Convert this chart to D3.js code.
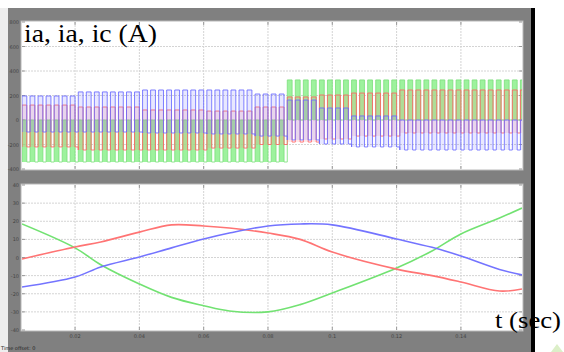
<!DOCTYPE html>
<html>
<head>
<meta charset="utf-8">
<script src="https://d3js.org/d3.v7.min.js"></script>
<style>
  * { margin: 0; padding: 0; }
  body { background: #fff; width: 564px; height: 352px; overflow: hidden; }
  svg { display: block; }
</style>
</head>
<body>
<div id="chart"></div>
<script>
// time axis (s)
const tStart = 0.0035, tEnd = 0.159;
const timeTicks = [0.02, 0.04, 0.06, 0.08, 0.1, 0.12, 0.14];
const timeLabels = ["0.02", "0.04", "0.06", "0.08", "0.1", "0.12", "0.14"];

// upper scope: switching currents, envelope levels read per segment
const topTicks = [800, 600, 400, 200, 0, -200, -400];
const envTime = [0.0035, 0.02, 0.04, 0.06, 0.075, 0.084, 0.095, 0.105, 0.12, 0.14];
const blueHi  = [196, 229, 245, 245, 212, 163, 98, 33, 0, 0];
const blueLo  = [-98, -98, -106, -114, -131, -163, -196, -220, -245, -245];
const redHi   = [122, 106, 82, 73, 106, 188, 204, 220, 245, 245];
const redLo   = [-220, -245, -245, -229, -200, -180, -155, -131, -106, -106];
const greenHi = [0, 0, 0, 0, 0, 327, 327, 327, 327, 327];
const greenLo = [-343, -343, -343, -343, -343, 0, 0, 0, 0, 0];
const pwmPeriod = 0.0025, duty = 0.6;

// lower scope: smooth currents
const botTicks = [40, 30, 20, 10, 0, -10, -20, -30, -40];
const curveTime = [0.0035, 0.02, 0.028, 0.04, 0.05, 0.06, 0.068, 0.08, 0.09, 0.1, 0.12, 0.131, 0.14, 0.152, 0.159];
const redI   = [-0.8, 5.8, 8.6, 14, 18, 17.4, 16.3, 13.5, 10, 3, -6.4, -10, -13.5, -18.5, -17.4];
const blueI  = [-16.3, -10.8, -5.2, 0.3, 5.3, 10.2, 13.5, 17.4, 18.5, 18, 10.2, 5.6, 0.8, -6.6, -9.6];
const greenI = [18.5, 5.3, -4, -14.6, -22, -26.6, -29.5, -30, -26, -19.6, -5.8, 3.6, 13, 21.8, 27.3];

const W = 564, H = 352;
const plotL = 22, plotR = 522;
const topBox = { y0: 22, y1: 169 };
const botBox = { y0: 185, y1: 330 };

const svg = d3.select("#chart").append("svg").attr("width", W).attr("height", H);

svg.append("rect").attr("width", W).attr("height", H).attr("fill", "#fff");
svg.append("rect").attr("x", 0).attr("y", 8).attr("width", 8).attr("height", H - 8).attr("fill", "#eeeeee");
svg.append("rect").attr("x", 8).attr("y", 8).attr("width", 523).attr("height", H - 8).attr("fill", "#808080");
svg.append("rect").attr("x", 531).attr("y", 8).attr("width", 4).attr("height", H - 8).attr("fill", "#000");

const x = d3.scaleLinear().domain([tStart, tEnd]).range([plotL, plotR]);
const yTop = d3.scaleLinear().domain([-400, 800]).range([topBox.y1, topBox.y0]);
const yBot = d3.scaleLinear().domain([-40, 40]).range([botBox.y1, botBox.y0]);

function drawFrame(box, y, ticks, id, showX) {
  const g = svg.append("g");
  g.append("rect").attr("x", plotL - 1).attr("y", box.y0 - 1)
    .attr("width", plotR - plotL + 2).attr("height", box.y1 - box.y0 + 2)
    .attr("fill", "#fff").attr("stroke", "#b8b8b8");
  svg.append("clipPath").attr("id", id).append("rect")
    .attr("x", plotL).attr("y", box.y0).attr("width", plotR - plotL).attr("height", box.y1 - box.y0);

  g.selectAll(".hg").data(ticks.slice(1, -1)).join("line")
    .attr("x1", plotL).attr("x2", plotR).attr("y1", d => y(d)).attr("y2", d => y(d))
    .attr("stroke", "#d4d4d4").attr("stroke-dasharray", "2,1");
  g.selectAll(".vg").data(timeTicks).join("line")
    .attr("x1", d => x(d)).attr("x2", d => x(d)).attr("y1", box.y0).attr("y2", box.y1)
    .attr("stroke", "#d4d4d4").attr("stroke-dasharray", "2,1");

  // inward ticks on all sides
  g.selectAll(".tl").data(ticks).join("path")
    .attr("d", d => `M${plotL},${y(d)}h3M${plotR},${y(d)}h-3`)
    .attr("stroke", "#999");
  g.selectAll(".tx").data(timeTicks).join("path")
    .attr("d", d => `M${x(d)},${box.y0}v3M${x(d)},${box.y1}v-3`)
    .attr("stroke", "#999");

  g.selectAll(".yl").data(ticks).join("text")
    .attr("x", plotL - 3).attr("y", d => y(d) + 2)
    .attr("text-anchor", "end").attr("font-family", "DejaVu Sans").attr("font-size", 5)
    .attr("fill", "#2a2a2a").attr("opacity", 0.7)
    .text(d => d);
  if (showX) {
    g.selectAll(".xl").data(timeTicks).join("text")
      .attr("x", d => x(d)).attr("y", box.y1 + 8)
      .attr("text-anchor", "middle").attr("font-family", "DejaVu Sans").attr("font-size", 5)
      .attr("fill", "#2a2a2a").attr("opacity", 0.7)
      .text((d, i) => timeLabels[i]);
  }
}

drawFrame(topBox, yTop, topTicks, "clipTop", false);
drawFrame(botBox, yBot, botTicks, "clipBot", true);

// upper scope pulses
const pulseStarts = d3.range(tStart, tEnd, pwmPeriod);
const seg = d3.bisector(d => d).right;
function level(arr, t) { return arr[Math.max(0, seg(envTime, t) - 1)]; }

function pulses(hi, lo) {
  return pulseStarts.map(t => ({ t0: t, t1: t + pwmPeriod * duty, t2: t + pwmPeriod, hi: level(hi, t), lo: level(lo, t) }));
}

function squarePath(ps) {
  let d = "";
  ps.forEach((p, i) => {
    d += (i ? "L" : "M") + x(p.t0) + "," + yTop(p.lo);
    d += "L" + x(p.t0) + "," + yTop(p.hi) + "L" + x(p.t1) + "," + yTop(p.hi);
    d += "L" + x(p.t1) + "," + yTop(p.lo) + "L" + x(p.t2) + "," + yTop(p.lo);
  });
  return d;
}

const topG = svg.append("g").attr("clip-path", "url(#clipTop)");

const series = [
  { hi: greenHi, lo: greenLo, stroke: "#7fe07f", fill: "#8cf08c", fillOp: 0.85 },
  { hi: redHi, lo: redLo, stroke: "#ff6464", fill: "#ff8080", fillOp: 0.18 },
  { hi: blueHi, lo: blueLo, stroke: "#6a6aff", fill: "#8080ff", fillOp: 0.18 }
];

series.forEach(s => {
  const ps = pulses(s.hi, s.lo);
  topG.append("g").selectAll("rect").data(ps).join("rect")
    .attr("x", d => x(d.t0)).attr("width", d => x(d.t1) - x(d.t0))
    .attr("y", d => yTop(Math.max(d.hi, d.lo))).attr("height", d => Math.abs(yTop(d.lo) - yTop(d.hi)))
    .attr("fill", s.fill).attr("fill-opacity", s.fillOp);
  topG.append("path").attr("d", squarePath(ps))
    .attr("fill", "none").attr("stroke", s.stroke).attr("stroke-width", 1).attr("stroke-opacity", 0.85);
});

// lower scope curves
const botG = svg.append("g").attr("clip-path", "url(#clipBot)");
const line = d3.line().x(d => x(d[0])).y(d => yBot(d[1])).curve(d3.curveCatmullRom.alpha(0.5));
[[greenI, "#72e272"], [redI, "#ff7474"], [blueI, "#7474ff"]].forEach(([vals, col]) => {
  botG.append("path").attr("d", line(curveTime.map((t, i) => [t, vals[i]])))
    .attr("fill", "none").attr("stroke", col).attr("stroke-width", 1.6);
});

// status line and labels
svg.append("text").attr("x", 1).attr("y", 350)
  .attr("font-family", "DejaVu Sans").attr("font-size", 5).attr("fill", "#222")
  .text("Time offset:  0");

svg.append("text").attr("x", 24).attr("y", 42)
  .attr("font-family", "Liberation Serif").attr("font-size", 25).attr("fill", "#000")
  .attr("textLength", 133).attr("lengthAdjust", "spacingAndGlyphs")
  .text("ia, ia, ic (A)");

svg.append("text").attr("x", 495).attr("y", 328)
  .attr("font-family", "Liberation Serif").attr("font-size", 23).attr("fill", "#000")
  .attr("textLength", 66).attr("lengthAdjust", "spacingAndGlyphs")
  .text("t (sec)");

// faint corner mark
svg.append("path").attr("d", "M551,352L557,344L563,352Z").attr("fill", "#dcefc8");
</script>
</body>
</html>
